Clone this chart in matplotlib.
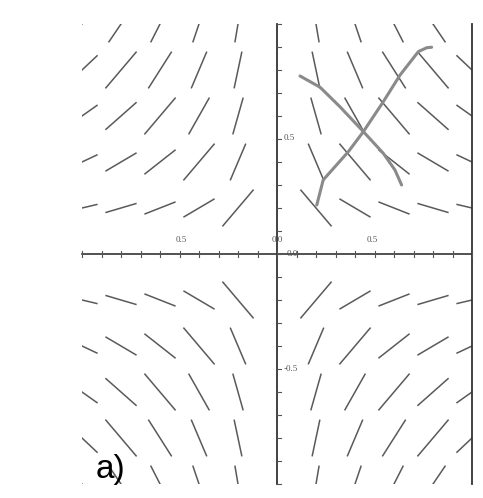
import numpy as np
import matplotlib.pyplot as plt
from matplotlib.collections import LineCollection
from matplotlib.patches import Rectangle

# direction field for dy/dx = -y/x on the square [-1, 1] x [-1, 1]
grid_x = [-1.0, -0.8, -0.6, -0.4, -0.2, 0.2, 0.4, 0.6, 0.8, 1.0]
grid_y = [-1.0, -0.8, -0.6, -0.4, -0.2, 0.2, 0.4, 0.6, 0.8, 1.0]

# two sketched curves in the first quadrant
rise_x = [0.204, 0.237, 0.366, 0.443, 0.545, 0.631, 0.725, 0.768, 0.793]
rise_y = [0.213, 0.322, 0.445, 0.532, 0.662, 0.778, 0.880, 0.897, 0.899]
fall_x = [0.118, 0.221, 0.323, 0.443, 0.545, 0.605, 0.639]
fall_y = [0.774, 0.725, 0.640, 0.532, 0.438, 0.365, 0.300]

x_ticks = np.round(np.arange(-1.0, 1.01, 0.1), 2)
y_ticks = np.round(np.arange(-1.0, 1.01, 0.1), 2)


def slope(x, y):
    return -y / x


fig = plt.figure(figsize=(4.83, 4.98), dpi=100)
ax = fig.add_axes([0, 0, 1, 1])
ax.set_xlim(-277 / 195, (483 - 277) / 195)
ax.set_ylim((254 - 498) / 230, 254 / 230)
ax.axis('off')

half = 0.08
segs = []
for x0 in grid_x:
    for y0 in grid_y:
        m = slope(x0, y0)
        s = half / max(1.0, abs(m))
        segs.append([(x0 - s, y0 - m * s), (x0 + s, y0 + m * s)])

box = Rectangle((-1, -1), 2, 2, transform=ax.transData, fill=False, visible=False)
ax.add_patch(box)
lc = LineCollection(segs, colors='#5a5a5a', linewidths=1.1)
ax.add_collection(lc)
lc.set_clip_path(box)

# axes through the origin and the right edge
ax.plot([-1, 1], [0, 0], color='#333333', lw=1.2)
ax.plot([0, 0], [-1, 1], color='#333333', lw=1.3)
ax.plot([1, 1], [-1, 1], color='#333333', lw=1.3)

for t in x_ticks:
    ax.plot([t, t], [-0.012, 0.012], color='#555555', lw=0.8)
for t in y_ticks:
    ax.plot([0, 0.02], [t, t], color='#555555', lw=0.8)

lab = dict(fontsize=6.5, family='Liberation Serif', color='#555555')
ax.text(0.49, 0.045, '0.5', ha='center', va='bottom', **lab)
ax.text(-0.49, 0.045, '0.5', ha='center', va='bottom', **lab)
ax.text(0.0, 0.045, '0.0', ha='center', va='bottom', **lab)
ax.text(0.05, 0.0, '0.0', ha='left', va='center', **lab)
ax.text(0.035, 0.505, '0.5', ha='left', va='center', **lab)
ax.text(0.035, -0.5, '-0.5', ha='left', va='center', **lab)

ax.plot(rise_x, rise_y, color='#8a8a8a', lw=2.2, solid_capstyle='round')
ax.plot(fall_x, fall_y, color='#8a8a8a', lw=2.2, solid_capstyle='round')

fig.text(96 / 483, 1 - 478 / 498, 'a)', fontsize=24, family='Liberation Sans',
         ha='left', va='baseline')

fig.savefig('out.png', dpi=100)
